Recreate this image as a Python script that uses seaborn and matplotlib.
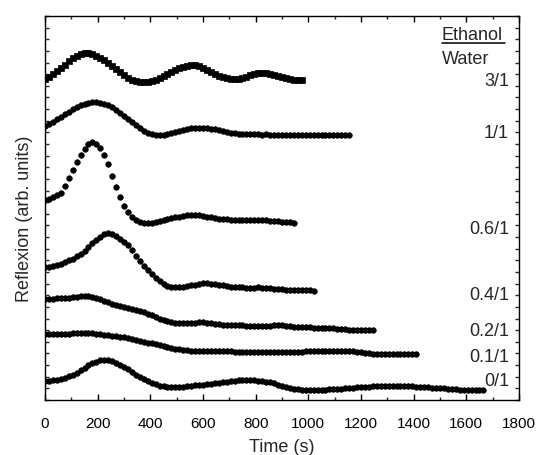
import matplotlib
matplotlib.use("Agg")
import matplotlib.pyplot as plt
from matplotlib.ticker import MultipleLocator, NullFormatter
import seaborn as sns
import pandas as pd

# ---- data (time step 15 s; reflexion in arb. units, curves offset) ----
step = 15
r31 = [321, 323, 326, 329, 332, 335, 339, 342, 344.5, 346, 347, 347, 346, 344.5, 342.5, 340, 337, 334,
       331, 328, 325, 322.5, 320.5, 319, 318.2, 318, 318.3, 319.2, 320.5, 322, 324, 326, 328, 330, 332,
       333.5, 334.5, 335, 334.8, 334, 332.5, 330.5, 328.5, 326.5, 324.5, 323, 321.8, 321, 320.8, 321.3,
       322.3, 323.5, 325, 326, 326.7, 327, 327, 326.5, 325.5, 324.3, 323, 322, 321, 320.3, 320, 319.8]
r11 = [274, 276, 278.5, 281, 283.5, 286, 288.5, 291, 293, 295, 296.5, 297.5, 298, 298, 297.5, 296.5,
       295, 293, 290.5, 287.5, 284.5, 281, 278, 275, 272, 269.5, 267.5, 266, 265.2, 265, 265.3, 266,
       267, 268, 269, 270, 271, 271.7, 272, 272.2, 272.2, 272, 271.5, 270.8, 270, 269, 268.2, 267.5,
       267, 266.5, 266.2, 266, 265.8, 265.7, 265.6, 265.5, 265.6, 265.4, 265.4, 265.5, 265.3, 265.3,
       265.4, 265.2, 265.2, 265.3, 265.1, 265.2, 265.1, 265.0, 265.1, 265.0, 264.9, 265.0, 264.9,
       264.9, 264.8, 264.8]
r06 = [200, 201.5, 203, 205, 207.5, 214, 222, 230, 238, 245, 251, 256, 258, 256.5, 252, 245.5, 236,
       224.5, 213, 203, 194.5, 188, 183, 180.5, 178.5, 177.5, 177, 177.3, 178, 178.8, 179.8, 180.8,
       181.8, 182.7, 183.5, 184.2, 184.7, 185, 185, 184.7, 184.2, 183.5, 182.8, 182, 181.5, 181, 180.6,
       180.3, 180, 180, 180, 180.1, 180.2, 180.2, 180.1, 180, 179.8, 179.5, 179.2, 178.8, 178.4, 178,
       177.6, 177.2]
r04 = [133, 133.5, 134, 135, 136.5, 138, 140, 141.5, 144, 146.5, 149.5, 153.5, 157.5, 160.5, 163.5,
       166, 167, 166.5, 164.5, 161.5, 158.5, 155, 150.5, 144.5, 139, 134.5, 130.5, 126.5, 122.5, 119,
       116, 114, 113, 112.8, 113, 113.3, 114, 114.8, 115.5, 116.3, 116.8, 117, 116.5, 115.8, 115.2,
       114.6, 114, 113.5, 113.2, 113, 112.8, 112.5, 111.8, 112.3, 112.6, 112.4, 112, 111.6, 111.3, 111,
       110.6, 110.3, 110.2, 110.3, 110.4, 110.5, 110.4, 110.2, 109.5]
r02 = [101, 101.3, 101.5, 101.6, 101.8, 102, 102.3, 102.8, 103.3, 103.8, 104, 103.8, 103.2, 102.2, 101,
       99.5, 97.8, 96.3, 95, 94, 93.2, 92.3, 91.4, 90.5, 89.3, 88, 86.4, 84.7, 83, 81.5, 80, 78.8, 77.8,
       77.2, 77, 77, 77, 77.2, 77.4, 77.6, 77.6, 77.2, 76.7, 76.2, 75.8, 75.5, 75.3, 75.2, 75, 74.8,
       74.7, 74.5, 74.3, 74.2, 74.1, 74, 74, 74.3, 74.8, 75, 74.6, 74, 73.6, 73.3, 73.1, 73, 72.8, 72.6,
       72.4, 72.2, 72, 71.8, 71.7, 71.6, 71.2, 70.8, 70.6, 70.4, 70.3, 70.3, 70.4, 70.3, 70.2, 70]
r01 = [66, 66, 66.2, 66.3, 66.3, 66.4, 66.5, 66.6, 66.7, 66.8, 66.9, 66.9, 66.7, 66.4, 66, 65.5, 65,
       64.4, 63.8, 63.3, 62.7, 62, 61, 60, 59.2, 58.3, 57.4, 56.6, 55.7, 54.8, 54, 53.2, 52.3, 51.5,
       50.8, 50.2, 49.8, 49.5, 49.3, 49.1, 49, 48.9, 48.8, 48.8, 48.7, 48.7, 48.6, 48.6, 48.5, 48.5,
       48.4, 48.3, 48.2, 48.1, 48, 47.9, 47.8, 47.8, 47.9, 48, 48.1, 48.2, 48.3, 48.4, 48.5, 48.5, 48.6,
       48.7, 48.7, 48.8, 48.8, 48.9, 48.9, 49, 49, 49, 49, 48.9, 48.8, 48.4, 47.8, 47.1, 46.6, 46.3,
       46.2, 46.2, 46.2, 46.1, 46.1, 46.2, 46.2, 46.3, 46.3, 46.2, 46.1]
r00 = [19, 19.3, 19.8, 20.5, 21.3, 22.3, 23.6, 25.2, 27.3, 29.8, 32.3, 34.6, 36.8, 38.5, 39.6, 40, 39.8,
       39, 37.5, 35.5, 33.2, 30.6, 28, 25.4, 23, 20.8, 18.8, 17, 15.6, 14.5, 13.7, 13.2, 13, 13, 13.2,
       13.5, 13.9, 14.3, 14.7, 15.1, 15.5, 16, 16.5, 17, 17.5, 18, 18.5, 18.9, 19.3, 19.6, 19.8, 19.9,
       19.9, 19.7, 19.4, 19, 18.4, 17.6, 16.6, 15.5, 14.4, 13.3, 12.3, 11.4, 10.8, 10.4, 10.2, 10.1,
       10.1, 10.2, 10.3, 10.5, 10.7, 10.9, 11.2, 11.5, 11.8, 12.2, 12.5, 12.8, 13.1, 13.3, 13.5, 13.7,
       13.8, 13.9, 14, 14, 14, 14, 14, 13.9, 13.8, 13.7, 13.5, 13.3, 13, 12.8, 12.5, 12.2, 12, 11.7,
       11.4, 11.1, 10.8, 10.5, 10.3, 10.1, 10, 9.9, 9.8, 9.7]

ratios = ["3/1", "1/1", "0.6/1", "0.4/1", "0.2/1", "0.1/1", "0/1"]
series = [r31, r11, r06, r04, r02, r01, r00]
label_y = [318, 266, 171, 105, 68, 43, 18]   # vertical position of the ratio labels

frames = []
for name, vals in zip(ratios, series):
    frames.append(pd.DataFrame({"time": [i * step for i in range(len(vals))],
                                "refl": vals, "ratio": name}))
df = pd.concat(frames, ignore_index=True)

# ---- styling ----
sns.set_style("ticks")
plt.rcParams["font.family"] = ["Liberation Sans", "DejaVu Sans"]
plt.rcParams["axes.linewidth"] = 1.0

fig = plt.figure(figsize=(5.37, 4.55), dpi=100)
ax = fig.add_axes([45 / 537, 55 / 455, 474 / 537, 384 / 455])

markers = {r: ("s" if r == "3/1" else "o") for r in ratios}
for r in ratios:
    sub = df[df["ratio"] == r]
    sns.scatterplot(data=sub, x="time", y="refl", marker=markers[r],
                    s=13 if r == "3/1" else 16, color="black",
                    edgecolor="black", linewidth=0.5, ax=ax, legend=False)

ax.set_xlim(0, 1800)
ax.set_ylim(0, 384)
ax.xaxis.set_major_locator(MultipleLocator(200))
ax.xaxis.set_minor_locator(MultipleLocator(100))
ax.yaxis.set_major_locator(MultipleLocator(384 / 33))
ax.yaxis.set_major_formatter(NullFormatter())
ax.tick_params(axis="x", which="major", direction="in", length=4, width=1,
               top=True, bottom=True, labelsize=11, pad=12, colors="black")
ax.tick_params(axis="x", which="minor", direction="in", length=2.5, width=1,
               top=True, bottom=True)
ax.tick_params(axis="y", which="major", direction="in", length=3, width=1,
               left=True, right=True)
for sp in ax.spines.values():
    sp.set_visible(True)
    sp.set_color("black")

ax.set_xlabel("Time (s)", fontsize=13, labelpad=6)
ax.set_ylabel("Reflexion (arb. units)", fontsize=13)
ax.yaxis.set_label_coords(-0.025, 0.471)

for r, yy in zip(ratios, label_y):
    ax.text(1762, yy, r, ha="right", va="center", fontsize=13)
ax.text(1507, 364, "Ethanol", ha="left", va="center", fontsize=13)
ax.plot([1507, 1745], [357, 357], color="black", lw=1.1)
ax.text(1507, 341, "Water", ha="left", va="center", fontsize=13)

fig.savefig("out.png", dpi=100)
